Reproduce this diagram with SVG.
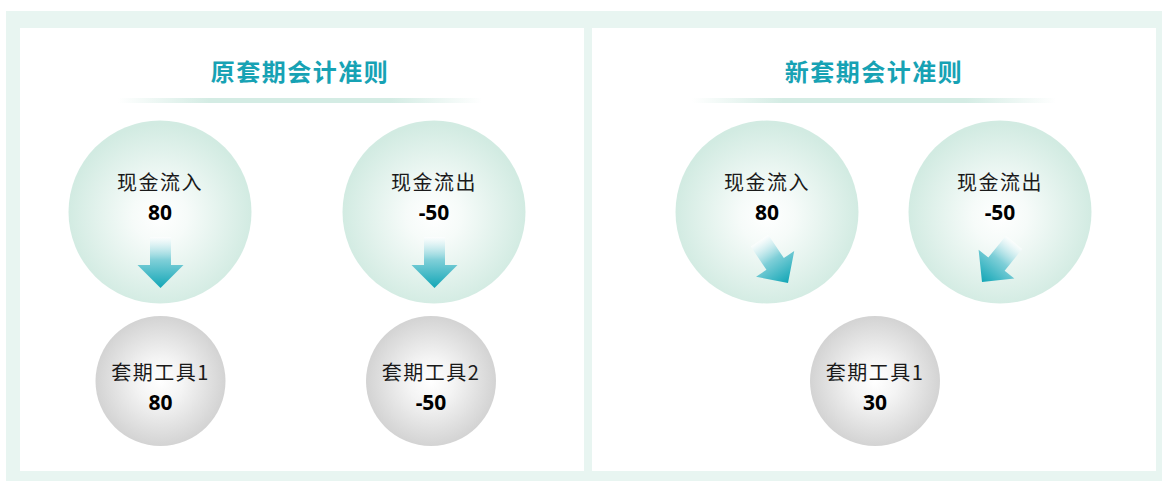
<svg xmlns="http://www.w3.org/2000/svg" width="1162" height="481" viewBox="0 0 1162 481">
<style>
.title{font-family:"Noto Sans CJK SC","Noto Sans",sans-serif;font-size:24px;font-weight:bold;fill:#17a2b4;text-anchor:middle;letter-spacing:1.5px}
.lbl{font-family:"Noto Sans CJK SC","Noto Sans",sans-serif;font-size:20px;font-weight:normal;fill:#1a1a1a;text-anchor:middle;letter-spacing:1.5px}
.num{font-family:"Noto Sans","Open Sans",sans-serif;font-size:21px;font-weight:bold;fill:#000;text-anchor:middle}
.mint{fill:url(#gMint)}
.gray{fill:url(#gGray)}
.arrow{fill:url(#gArrow)}
</style>
<defs>
<radialGradient id="gMint" cx="50%" cy="52%" r="50%">
<stop offset="0" stop-color="#ffffff"/>
<stop offset="0.3" stop-color="#f6fbf9"/>
<stop offset="1" stop-color="#d2ebe2"/>
</radialGradient>
<radialGradient id="gGray" cx="50%" cy="50%" r="50%">
<stop offset="0" stop-color="#ffffff"/>
<stop offset="0.35" stop-color="#f4f4f4"/>
<stop offset="1" stop-color="#d3d3d3"/>
</radialGradient>
<linearGradient id="gArrow" x1="0" y1="0" x2="0" y2="1">
<stop offset="0" stop-color="#ffffff" stop-opacity="0.6"/>
<stop offset="0.45" stop-color="#7fcfd8"/>
<stop offset="1" stop-color="#12a6b6"/>
</linearGradient>
<linearGradient id="gLine" x1="0" y1="0" x2="1" y2="0">
<stop offset="0" stop-color="#d4ece4" stop-opacity="0"/>
<stop offset="0.25" stop-color="#d4ece4"/>
<stop offset="0.75" stop-color="#d4ece4"/>
<stop offset="1" stop-color="#d4ece4" stop-opacity="0"/>
</linearGradient>
<path id="arr" d="M-10.5,-51 L10.5,-51 L10.5,-23 L23,-23 L0,0 L-23,-23 L-10.5,-23 Z"/>
</defs>

<rect x="6" y="11" width="1156" height="470" fill="#e8f5f1"/>
<rect x="20" y="28" width="564" height="443" fill="#ffffff"/>
<rect x="592" y="28" width="564" height="443" fill="#ffffff"/>

<g id="title-left">
<text class="title" x="300" y="81">原套期会计准则</text>
<rect x="118" y="98" width="364" height="5" fill="url(#gLine)"/>
</g>
<g id="title-right">
<text class="title" x="874" y="81">新套期会计准则</text>
<rect x="692" y="98" width="364" height="5" fill="url(#gLine)"/>
</g>

<g id="l-inflow">
<circle class="mint" cx="160" cy="212" r="91.5"/>
<text class="lbl" x="160" y="190">现金流入</text>
<text class="num" x="160" y="219.5">80</text>
</g>
<g id="l-outflow">
<circle class="mint" cx="434" cy="212" r="91.5"/>
<text class="lbl" x="434" y="190">现金流出</text>
<text class="num" x="434" y="219.5">-50</text>
</g>
<g id="l-tool1">
<circle class="gray" cx="160.5" cy="381" r="65"/>
<text class="lbl" x="160.5" y="380">套期工具1</text>
<text class="num" x="160.5" y="409.5">80</text>
</g>
<g id="l-tool2">
<circle class="gray" cx="431" cy="381" r="65"/>
<text class="lbl" x="431" y="380">套期工具2</text>
<text class="num" x="431" y="409.5">-50</text>
</g>

<g id="r-inflow">
<circle class="mint" cx="767" cy="212" r="91.5"/>
<text class="lbl" x="767" y="190">现金流入</text>
<text class="num" x="767" y="219.5">80</text>
</g>
<g id="r-outflow">
<circle class="mint" cx="1000" cy="212" r="91.5"/>
<text class="lbl" x="1000" y="190">现金流出</text>
<text class="num" x="1000" y="219.5">-50</text>
</g>
<g id="r-tool1">
<circle class="gray" cx="875" cy="381" r="65"/>
<text class="lbl" x="875" y="380">套期工具1</text>
<text class="num" x="875" y="409.5">30</text>
</g>

<g id="connectors">
<use href="#arr" class="arrow" transform="translate(160.5,288)"/>
<use href="#arr" class="arrow" transform="translate(434.5,288)"/>
<use href="#arr" class="arrow" transform="translate(788,283) rotate(-34)"/>
<use href="#arr" class="arrow" transform="translate(982,282) rotate(39)"/>
</g>
</svg>
